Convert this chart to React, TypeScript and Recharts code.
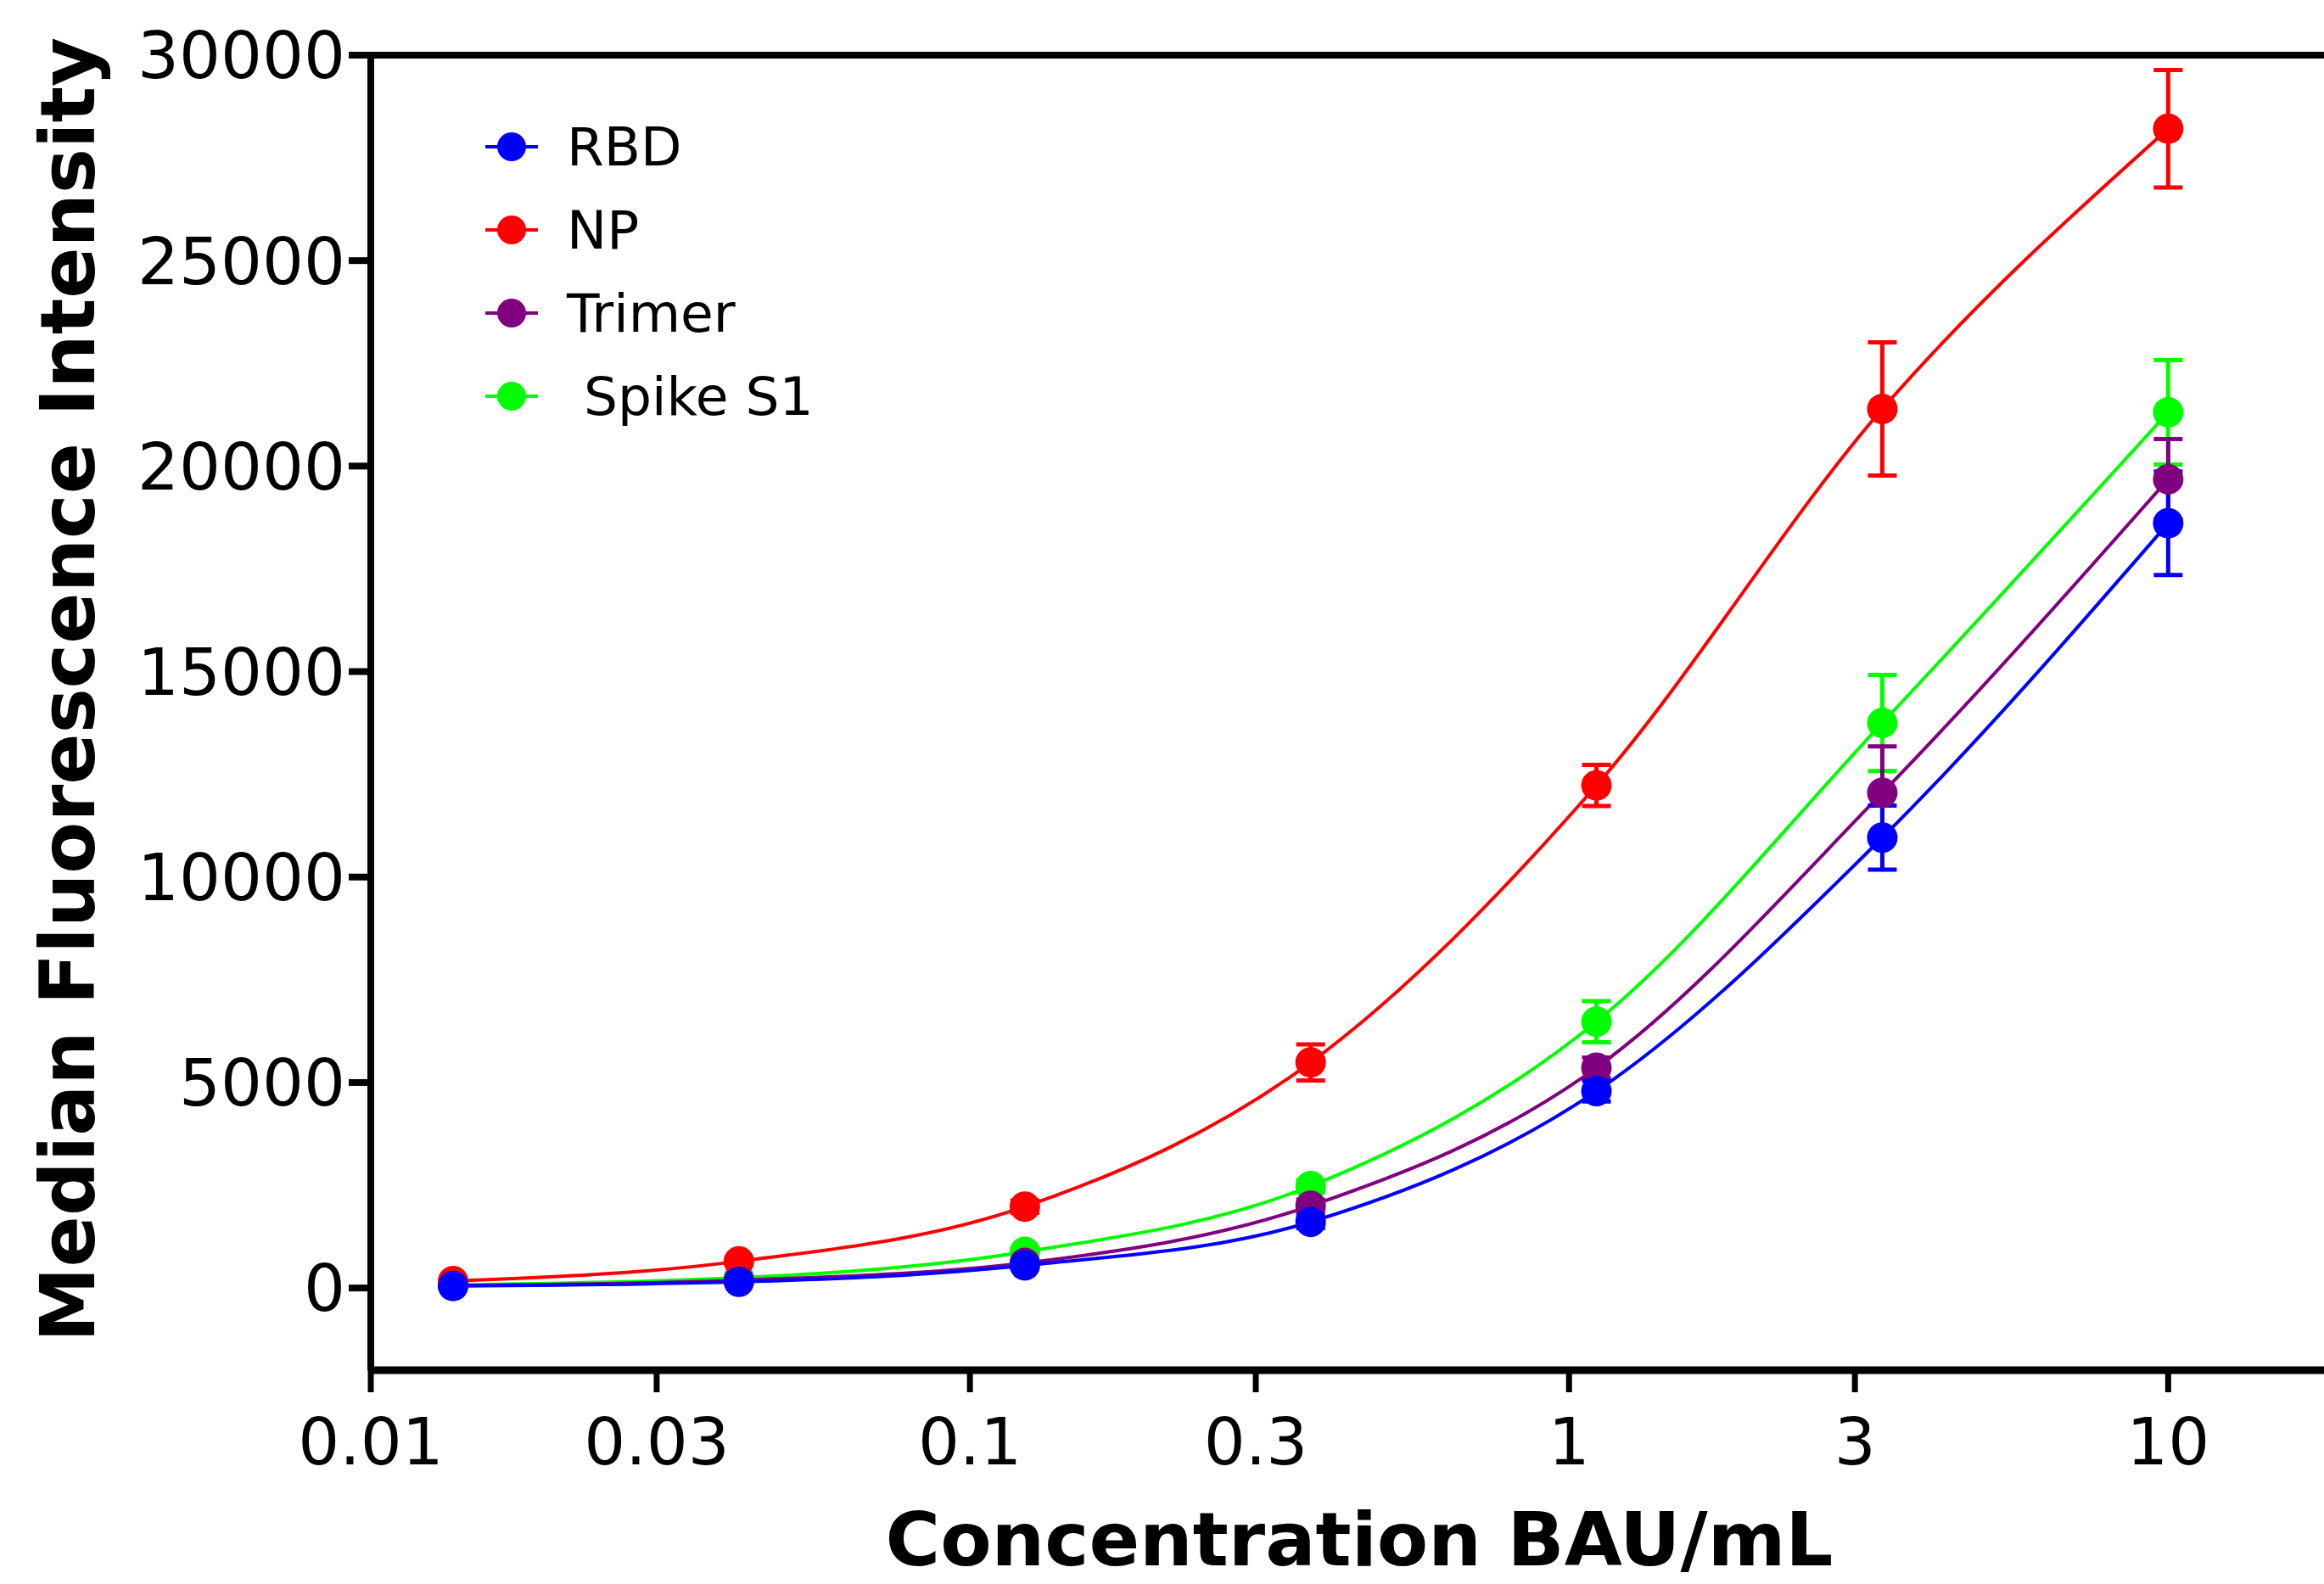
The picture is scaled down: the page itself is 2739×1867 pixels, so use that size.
import { LineChart, Line, XAxis, YAxis, ErrorBar, ReferenceLine, Label } from "recharts";

document.body.style.margin = "0";

// three-fold dilution series, BAU/mL
const concentrations = [0.01372, 0.04115, 0.1235, 0.3704, 1.111, 3.333, 10];

const rbd = [50, 150, 550, 1610, 4790, 10960, 18610];
const rbdErr = [20, 40, 80, 150, 250, 780, 1260];
const np = [170, 650, 1980, 5490, 12230, 21390, 28210];
const npErr = [40, 80, 150, 440, 500, 1620, 1430];
const trimer = [60, 190, 610, 2000, 5360, 12050, 19680];
const trimerErr = [20, 40, 100, 150, 250, 1130, 980];
const spikeS1 = [80, 250, 880, 2480, 6480, 13750, 21310];
const spikeS1Err = [20, 40, 100, 150, 500, 1170, 1270];

const xTicks = [0.01, 0.03, 0.1, 0.3, 1, 3, 10];
const yTicks = [0, 5000, 10000, 15000, 20000, 25000, 30000];

const FONT = "'DejaVu Sans', Verdana, sans-serif";

const data = concentrations.map((c, i) => ({
  conc: c,
  rbd: rbd[i],
  rbdErr: rbdErr[i],
  np: np[i],
  npErr: npErr[i],
  trimer: trimer[i],
  trimerErr: trimerErr[i],
  spikeS1: spikeS1[i],
  spikeS1Err: spikeS1Err[i],
}));

// legend order
const series = [
  { key: "rbd", name: "RBD", color: "#0000ff" },
  { key: "np", name: "NP", color: "#ff0000" },
  { key: "trimer", name: "Trimer", color: "#800080" },
  { key: "spikeS1", name: " Spike S1", color: "#00ff00" },
];

// drawing order: blue ends up on top
const drawOrder = ["spikeS1", "trimer", "np", "rbd"];

function LegendBox() {
  return (
    <div style={{ position: "absolute", left: 572, top: 124, fontFamily: FONT }}>
      {series.map((s) => (
        <div key={s.key} style={{ display: "flex", alignItems: "center", height: 98 }}>
          <svg width={62} height={40}>
            <line x1={0} y1={20} x2={62} y2={20} stroke={s.color} strokeWidth={4} />
            <circle cx={31} cy={20} r={17} fill={s.color} />
          </svg>
          <span style={{ fontSize: 63, marginLeft: 34, whiteSpace: "pre", color: "#000", lineHeight: 1 }}>
            {s.name}
          </span>
        </div>
      ))}
    </div>
  );
}

export default function App() {
  return (
    <div style={{ position: "relative", width: 2739, height: 1867, background: "#fff", fontFamily: FONT }}>
      <LineChart width={2739} height={1867} data={data} margin={{ top: 65, right: 0, bottom: 0, left: 0 }}>
        <XAxis
          dataKey="conc"
          type="number"
          scale="log"
          domain={[0.01, 18.2]}
          allowDataOverflow
          ticks={xTicks}
          height={252}
          tick={{ fontSize: 77, fill: "#000", fontFamily: FONT }}
          tickSize={26}
          tickMargin={30}
          tickLine={{ stroke: "#000", strokeWidth: 7 }}
          axisLine={{ stroke: "#000", strokeWidth: 9 }}
        >
          <Label
            content={({ viewBox }: any) => (
              <text
                x={1602}
                y={viewBox.y + 230}
                textAnchor="middle"
                fontSize={88}
                fontWeight="bold"
                fontFamily={FONT}
                fill="#000"
              >
                Concentration BAU/mL
              </text>
            )}
          />
        </XAxis>
        <YAxis
          type="number"
          domain={[-2000, 30000]}
          ticks={yTicks}
          width={437}
          tick={{ fontSize: 77, fill: "#000", fontFamily: FONT }}
          tickSize={26}
          tickMargin={4}
          tickLine={{ stroke: "#000", strokeWidth: 8 }}
          axisLine={{ stroke: "#000", strokeWidth: 8 }}
        >
          <Label
            content={({ viewBox }: any) => {
              const cx = viewBox.x + 111;
              const cy = viewBox.y + viewBox.height / 2 - 27;
              return (
                <text
                  x={cx}
                  y={cy}
                  transform={`rotate(-90, ${cx}, ${cy})`}
                  textAnchor="middle"
                  fontSize={89}
                  fontWeight="bold"
                  fontFamily={FONT}
                  fill="#000"
                >
                  Median Fluorescence Intensity
                </text>
              );
            }}
          />
        </YAxis>
        <ReferenceLine y={30000} stroke="#000" strokeWidth={8} />
        {drawOrder.map((k) => {
          const s = series.find((x) => x.key === k)!;
          return (
            <Line
              key={k}
              dataKey={k}
              type="monotone"
              stroke={s.color}
              strokeWidth={4}
              dot={{ r: 18, fill: s.color, stroke: s.color, strokeWidth: 0 }}
              activeDot={false}
              isAnimationActive={false}
            >
              <ErrorBar dataKey={`${k}Err`} direction="y" width={17} stroke={s.color} strokeWidth={5} />
            </Line>
          );
        })}
      </LineChart>
      <LegendBox />
    </div>
  );
}
